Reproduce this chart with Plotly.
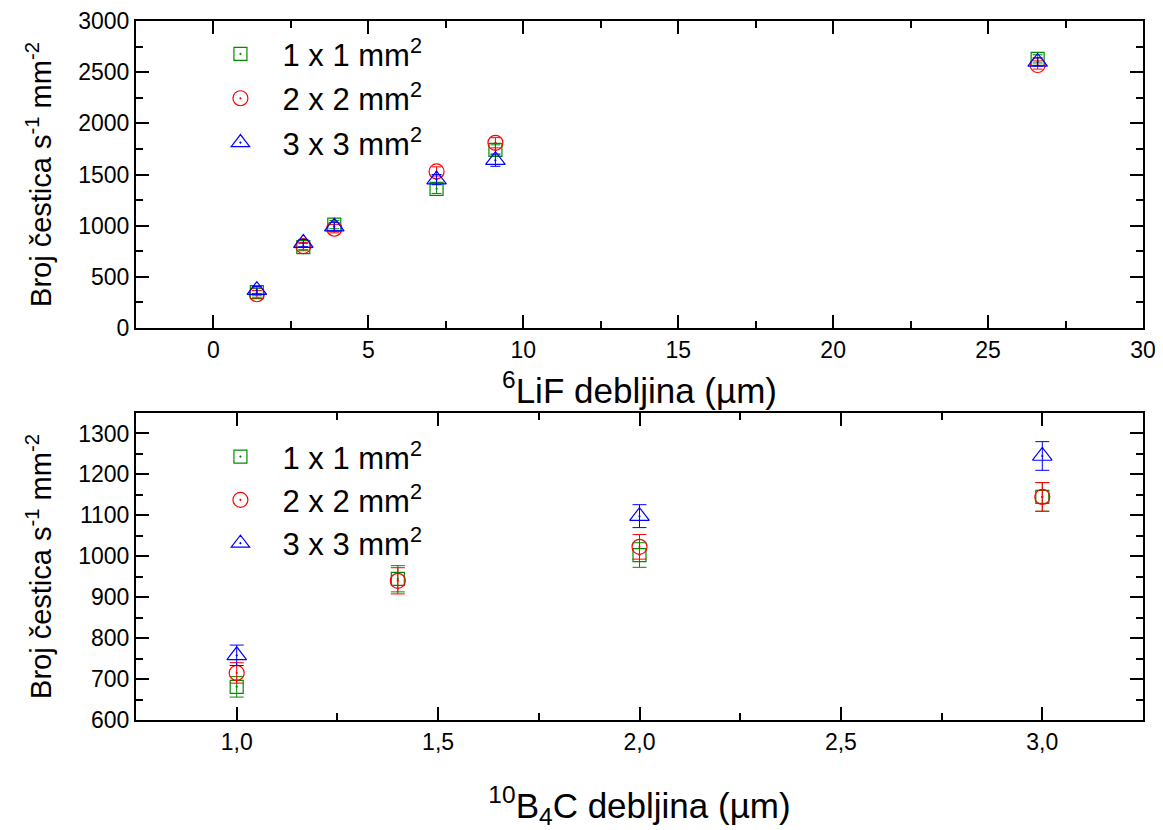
import plotly.graph_objects as go

# ---- Top panel: 6LiF ----
lif_thickness = [1.4, 2.9, 3.9, 7.2, 9.1, 26.6]
lif_1x1 = [350, 790, 1010, 1360, 1740, 2630]
lif_1x1_err = [35, 35, 40, 45, 50, 40]
lif_2x2 = [330, 800, 970, 1530, 1810, 2570]
lif_2x2_err = [35, 35, 40, 45, 50, 40]
lif_3x3 = [370, 830, 990, 1450, 1640, 2600]
lif_3x3_err = [35, 35, 40, 50, 60, 40]

# ---- Bottom panel: 10B4C ----
b4c_thickness = [1.0, 1.4, 2.0, 3.0]
b4c_1x1 = [681, 945, 1003, 1145]
b4c_1x1_err = [25, 32, 30, 35]
b4c_2x2 = [715, 940, 1023, 1145]
b4c_2x2_err = [25, 32, 30, 35]
b4c_3x3 = [758, None, 1098, 1245]
b4c_3x3_err = [25, 30, 28, 35]

series_names = ["1 x 1 mm<sup>2</sup>", "2 x 2 mm<sup>2</sup>", "3 x 3 mm<sup>2</sup>"]
colors = ["rgb(0,140,0)", "rgb(255,0,0)", "rgb(0,0,255)"]
symbols = ["square-open-dot", "circle-open-dot", "triangle-up-open-dot"]
sizes = [13, 15, 17]

fig = go.Figure()

top = [(lif_1x1, lif_1x1_err), (lif_2x2, lif_2x2_err), (lif_3x3, lif_3x3_err)]
bot = [(b4c_1x1, b4c_1x1_err), (b4c_2x2, b4c_2x2_err), (b4c_3x3, b4c_3x3_err)]

for i, (vals, err) in enumerate(top):
    fig.add_trace(go.Scatter(
        x=lif_thickness, y=vals, mode="markers", name=series_names[i],
        marker=dict(symbol=symbols[i], size=sizes[i], color=colors[i], line=dict(width=1.2, color=colors[i])),
        error_y=dict(type="data", array=err, color=colors[i], thickness=1, width=5),
        xaxis="x", yaxis="y", legend="legend", legendgroup="t%d" % i))

for i, (vals, err) in enumerate(bot):
    fig.add_trace(go.Scatter(
        x=b4c_thickness, y=vals, mode="markers", name=series_names[i],
        marker=dict(symbol=symbols[i], size=sizes[i], color=colors[i], line=dict(width=1.2, color=colors[i])),
        error_y=dict(type="data", array=err, color=colors[i], thickness=1, width=7),
        xaxis="x2", yaxis="y2", legend="legend2", legendgroup="b%d" % i))

FONT = "Liberation Sans, Arial"
axis_common = dict(
    showline=True, linewidth=2, linecolor="black", mirror="allticks",
    ticks="inside", ticklen=13, tickwidth=2, tickcolor="black",
    showgrid=False, zeroline=False, automargin=False,
    tickfont=dict(family=FONT, size=23, color="black"),
)
minor_common = dict(ticks="inside", ticklen=7, tickwidth=2, tickcolor="black", tick0=0)
xtitle_font = dict(family=FONT, size=35, color="black")
ytitle_font = dict(family=FONT, size=29, color="black")
legend_font = dict(family=FONT, size=31, color="black")

fig.update_layout(
    width=1155, height=822,
    margin=dict(l=128, r=20, t=13, b=110),
    paper_bgcolor="white", plot_bgcolor="white",
    separators=",.",
    showlegend=True,
    xaxis=dict(axis_common, domain=[0, 1], anchor="y", range=[-2.5, 30],
               tickvals=[0, 5, 10, 15, 20, 25, 30],
               minor=dict(minor_common, dtick=2.5),
               title=dict(text="<sup>6</sup>LiF debljina (µm)", font=xtitle_font, standoff=17)),
    yaxis=dict(axis_common, domain=[0.5608, 1.0], anchor="x", range=[0, 3000],
               tickvals=[0, 500, 1000, 1500, 2000, 2500, 3000],
               minor=dict(minor_common, dtick=250),
               title=dict(text="Broj čestica s<sup>-1</sup> mm<sup>-2</sup>", font=ytitle_font, standoff=18)),
    xaxis2=dict(axis_common, domain=[0, 1], anchor="y2", range=[0.75, 3.25],
                tickvals=[1.0, 1.5, 2.0, 2.5, 3.0], tickformat=".1f",
                minor=dict(minor_common, dtick=0.25),
                title=dict(text="<sup>10</sup>B<sub>4</sub>C debljina (µm)", font=xtitle_font, standoff=40)),
    yaxis2=dict(axis_common, domain=[0, 0.4392], anchor="x2", range=[600, 1350],
                tickvals=[600, 700, 800, 900, 1000, 1100, 1200, 1300],
                minor=dict(minor_common, dtick=50),
                title=dict(text="Broj čestica s<sup>-1</sup> mm<sup>-2</sup>", font=ytitle_font, standoff=18)),
    legend=dict(x=0.062, y=0.991, xanchor="left", yanchor="top", bgcolor="rgba(0,0,0,0)",
                font=legend_font, tracegroupgap=1, itemwidth=74),
    legend2=dict(x=0.062, y=0.415, xanchor="left", yanchor="top", bgcolor="rgba(0,0,0,0)",
                 font=legend_font, tracegroupgap=0, itemwidth=74),
)

fig.write_html("out.html")
